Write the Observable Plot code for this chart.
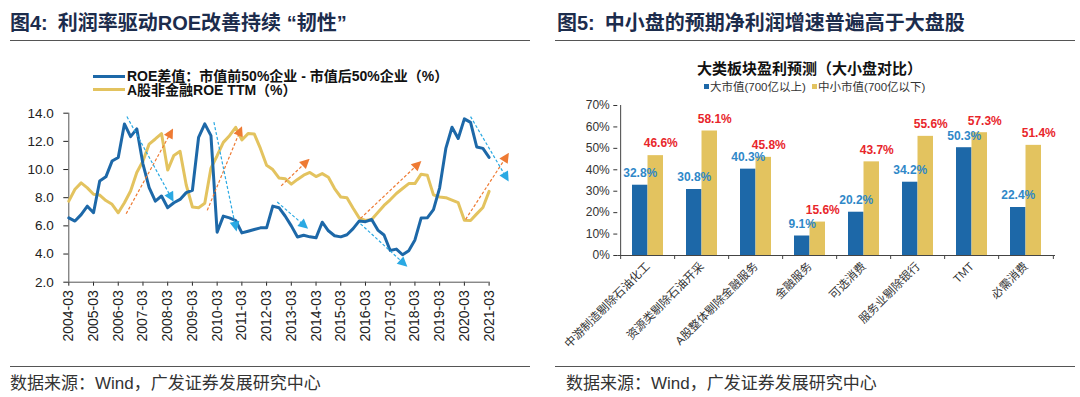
<!DOCTYPE html>
<html><head><meta charset="utf-8">
<script src="https://cdn.jsdelivr.net/npm/d3@7"></script>
<script src="https://cdn.jsdelivr.net/npm/@observablehq/plot@0.6"></script>
<style>
body{margin:0;background:#fff;}
#root{position:relative;width:1080px;height:397px;overflow:hidden;font-family:"Liberation Sans","Noto Sans CJK SC",sans-serif;}
.abs{position:absolute;white-space:nowrap;line-height:1;}
.title{font-size:20px;font-weight:bold;color:#1c2c4c;}
.rule{position:absolute;height:0;border-top:1.5px solid #555;}
.src{font-size:17px;color:#333;}
.lgl{position:absolute;width:32px;height:0;border-top:3px solid;}
.lgt{font-size:14px;font-weight:bold;color:#111;}
.sq{display:inline-block;width:5px;height:5px;margin-right:1px;vertical-align:middle;position:relative;top:-1px;}
svg{position:absolute;}
</style></head><body><div id="root"></div>
<script>
// ---------- Chart 4 data (quarterly, first point 2004-03) ----------
const startYear = 2004;
const roeDiff = [6.57,6.34,6.8,7.4,6.93,9.19,9.48,10.6,10.86,13.24,12.34,12.89,10.39,8.71,7.76,8.12,7.29,7.64,7.88,8.36,8.53,12.29,13.24,12.41,5.55,6.69,6.57,6.38,5.5,5.62,5.74,5.86,5.86,7.4,7.29,6.7,6.0,5.21,5.33,5.22,5.15,6.26,5.65,5.3,5.22,5.37,5.8,6.35,6.3,6.45,5.7,5.35,4.25,4.35,3.95,4.24,5.0,6.55,6.57,7.15,8.7,11.5,13.0,12.2,13.6,13.35,11.6,11.5,10.86];
const roeTTM = [7.76,8.6,9.05,8.7,8.25,8.19,7.8,7.53,6.93,7.64,8.48,9.79,10.6,11.81,12.17,12.55,9.96,11.0,11.29,8.9,7.34,7.29,7.6,10.1,10.98,11.93,12.4,13.0,12.1,12.55,12.53,11.5,10.3,10.0,9.4,9.35,8.96,9.3,9.6,9.79,9.5,9.71,9.45,8.65,8.05,8.0,7.25,6.55,6.38,6.45,6.95,7.45,7.85,8.3,8.65,9.0,9.0,9.67,9.6,8.2,8.05,8.0,7.82,7.65,6.4,6.38,6.85,7.3,8.45];
const yearTicks = d3.range(2004, 2022);
const leftYTicks = [2,4,6,8,10,12,14];
// trend arrows (time in years, value in %)
const upArrows = [
  {t1:2006.32,v1:6.86,t2:2008.11,v2:12.57},
  {t1:2009.6,v1:7.1,t2:2010.92,v2:12.71},
  {t1:2012.59,v1:8.84,t2:2013.58,v2:10.5},
  {t1:2015.8,v1:6.53,t2:2018.1,v2:10.34},
  {t1:2020.05,v1:6.46,t2:2021.68,v2:10.86}
];
const downArrows = [
  {t1:2006.35,v1:13.76,t2:2008.13,v2:8.05},
  {t1:2009.87,v1:13.36,t2:2010.74,v2:5.98},
  {t1:2012.43,v1:7.69,t2:2013.51,v2:6.05},
  {t1:2015.8,v1:6.14,t2:2017.53,v2:3.36},
  {t1:2020.25,v1:13.76,t2:2021.68,v2:9.48}
];

// ---------- Chart 5 data ----------
const categories = ["中游制造剔除石油化工","资源类剔除石油开采","A股整体剔除金融服务","金融服务","可选消费","服务业剔除银行","TMT","必需消费"];
const largeCap = [32.8,30.8,40.3,9.1,20.2,34.2,50.3,22.4];
const smallCap = [46.6,58.1,45.8,15.6,43.7,55.6,57.3,51.4];
const rightYTicks = [0,10,20,30,40,50,60,70];

const fontStack = '"Liberation Sans","Noto Sans CJK SC",sans-serif';
const BLUE = "#1d68a8", YELLOW = "#e3c35f", ORANGE = "#ee7a33", CYAN = "#2aa9e3";

const root = document.getElementById("root");
function addDiv(cls, html, style){ const d=document.createElement("div"); d.className=cls; d.innerHTML=html; Object.assign(d.style, style); root.appendChild(d); return d; }

// headers, rules, sources
addDiv("abs title","图4:&ensp;利润率驱动ROE改善持续 “韧性”",{left:"10px",top:"13px"});
addDiv("abs title","图5:&ensp;中小盘的预期净利润增速普遍高于大盘股",{left:"557px",top:"13px"});
addDiv("rule","",{left:"10px",top:"40px",width:"520px"});
addDiv("rule","",{left:"555px",top:"40px",width:"520px"});
addDiv("rule","",{left:"10px",top:"366px",width:"520px"});
addDiv("rule","",{left:"555px",top:"366px",width:"520px"});
addDiv("abs src","数据来源：Wind，广发证券发展研究中心",{left:"10px",top:"375px"});
addDiv("abs src","数据来源：Wind，广发证券发展研究中心",{left:"566px",top:"375px"});

// left legend
addDiv("lgl","",{left:"93px",top:"75px",borderColor:BLUE});
addDiv("lgl","",{left:"93px",top:"88px",borderColor:YELLOW});
addDiv("abs lgt","ROE差值：市值前50%企业 - 市值后50%企业（%）",{left:"127px",top:"69px"});
addDiv("abs lgt","A股非金融ROE TTM（%）",{left:"127px",top:"83px"});

// right chart title & legend
addDiv("abs","大类板块盈利预测（大小盘对比）",{left:"697px",top:"61px",fontSize:"15px",fontWeight:"bold",color:"#111"});
addDiv("abs",`<span class="sq" style="background:${BLUE}"></span>大市值(700亿以上) <span class="sq" style="background:${YELLOW};margin-left:3px"></span>中小市值(700亿以下)`,{left:"704px",top:"82px",fontSize:"11.5px",color:"#333"});

// triangle arrowhead marker
function triMarker(color, context){
  const doc = (context && context.document) || document;
  const ns = "http://www.w3.org/2000/svg";
  const m = doc.createElementNS(ns,"marker");
  m.setAttribute("viewBox","-5 -5 10 10");
  m.setAttribute("markerUnits","userSpaceOnUse");
  m.setAttribute("markerWidth","11");
  m.setAttribute("markerHeight","11");
  m.setAttribute("orient","auto");
  const p = doc.createElementNS(ns,"path");
  p.setAttribute("d","M-4,-4.5L5,0L-4,4.5Z");
  p.setAttribute("fill",color);
  p.setAttribute("stroke","none");
  m.appendChild(p);
  return m;
}

// ---------- left chart ----------
const quarters = roeDiff.map((v,i)=>({t:startYear + i/4, diff:v, ttm:roeTTM[i]}));
const left = Plot.plot({
  width:530, height:265,
  marginTop:17.7, marginBottom:78.3, marginLeft:68.3, marginRight:41.4,
  style:{background:"transparent", fontFamily:fontStack, fontSize:"13px", color:"#222", overflow:"visible"},
  x:{domain:[2004,2021], label:null, axis:null},
  y:{domain:[2,14], label:null, axis:null},
  marks:[
    Plot.axisY(leftYTicks,{tickSize:5, tickPadding:10, tickFormat:d=>d.toFixed(1), fontSize:13.5}),
    Plot.axisX(yearTicks,{tickSize:4, tickPadding:4, tickRotate:-90, tickFormat:d=>`${d}-03`, fontSize:14}),
    Plot.ruleX([2004],{stroke:"#555"}),
    Plot.ruleY([2],{stroke:"#555"}),
    Plot.line(quarters,{x:"t", y:"ttm", stroke:YELLOW, strokeWidth:3}),
    Plot.line(quarters,{x:"t", y:"diff", stroke:BLUE, strokeWidth:3}),
    Plot.link(upArrows,{x1:"t1", y1:"v1", x2:"t2", y2:"v2", stroke:ORANGE, strokeWidth:1.2, strokeDasharray:"3,2", markerEnd:triMarker}),
    Plot.link(downArrows,{x1:"t1", y1:"v1", x2:"t2", y2:"v2", stroke:CYAN, strokeWidth:1.2, strokeDasharray:"3,2", markerEnd:triMarker})
  ]
});
left.style.left="0px"; left.style.top="95px";
root.appendChild(left);

// ---------- right chart ----------
const bars = categories.map((c,i)=>({cat:c, large:largeCap[i], small:smallCap[i]}));
const RW = 520, RML = 62.3, RMR = 20;
const step = (RW - RML - RMR) / categories.length;
const padInner = 0.433;
const half = step*(1-padInner)/2;
const right = Plot.plot({
  width:RW, height:270,
  marginTop:10, marginBottom:110, marginLeft:RML, marginRight:RMR,
  style:{background:"transparent", fontFamily:fontStack, fontSize:"11.5px", color:"#333", overflow:"visible"},
  x:{domain:categories, paddingInner:padInner, paddingOuter:padInner/2, label:null, axis:null},
  y:{domain:[0,70], label:null, axis:null},
  marks:[
    Plot.barY(bars,{x:"cat", y:"large", fill:BLUE, insetRight:half}),
    Plot.barY(bars,{x:"cat", y:"small", fill:YELLOW, insetLeft:half}),
    Plot.axisY(rightYTicks,{tickSize:4, tickPadding:4, tickFormat:d=>d+"%", fontSize:12}),
    Plot.ruleX([categories[0]],{dx:-step/2, stroke:"#444"}),
    Plot.ruleY([0],{stroke:"#444"}),
    Plot.axisX(categories,{tickSize:4, dx:-step/2, tickFormat:()=>"", stroke:"#444"}),
    Plot.axisX([categories[categories.length-1]],{tickSize:4, dx:step/2, tickFormat:()=>"", stroke:"#444"}),
    Plot.axisX(categories,{tickSize:0, tickPadding:9, tickRotate:-45, fontSize:11.5, fill:"#333"}),
    Plot.text(bars,{x:"cat", y:"large", text:d=>d.large.toFixed(1)+"%", dx:-half/2, dy:-12, fill:"#2f88c8", fontWeight:"bold", fontSize:12}),
    Plot.text(bars,{x:"cat", y:"small", text:d=>d.small.toFixed(1)+"%", dx:half/2+5, dy:-12, fill:"#e8262b", fontWeight:"bold", fontSize:12})
  ]
});
right.style.left="555px"; right.style.top="95px";
root.appendChild(right);
</script></body></html>
